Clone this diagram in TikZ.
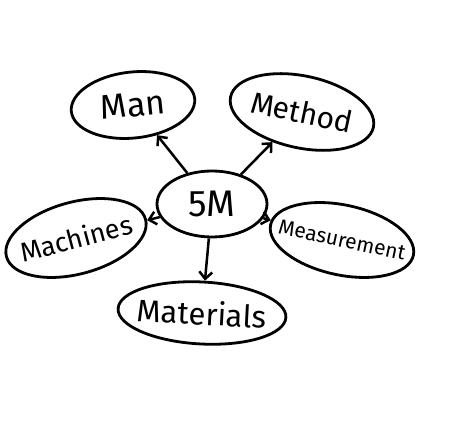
\documentclass[tikz,border=0pt]{standalone}
\usepackage{fontspec}
\setmainfont{Fira Sans}
\usepackage{tikz}
\usetikzlibrary{shapes.geometric,arrows.meta}

\tikzset{
    bubble/.style={draw,ellipse,line width=2.8pt,inner xsep=-20pt,inner ysep=-4pt},
    arr/.style={line width=2.5pt,-{Straight Barb[length=7pt,width=13pt]}}
}

\begin{document}
\begin{tikzpicture}[x=1pt,y=1pt]
    \fill[white] (0,0) rectangle (450,426);
    \useasboundingbox (0,0) rectangle (450,426);
    \node[bubble,minimum width=110,minimum height=66,font=\fontsize{37}{40}\selectfont] (c) at (212,222) {5M};
    \node[bubble,minimum width=124,minimum height=66,rotate=6,font=\fontsize{34}{38}\selectfont] (man) at (133,321) {Man};
    \node[bubble,minimum width=146,minimum height=72,rotate=-12,font=\fontsize{30}{34}\selectfont] (method) at (302,314) {Method};
    \node[bubble,minimum width=144,minimum height=72,rotate=15,font=\fontsize{27}{30}\selectfont] (mach) at (76,188) {Machines};
    \node[bubble,minimum width=146,minimum height=70,rotate=-12,font=\fontsize{21}{24}\selectfont] (meas) at (342,186) {Measurement};
    \node[bubble,minimum width=168,minimum height=62,rotate=-3,font=\fontsize{31}{34}\selectfont] (mat) at (202,113) {Materials};
    \draw[arr] (c) -- (man);
    \draw[arr] (c) -- (method);
    \draw[arr] (c) -- (mach);
    \draw[arr] (c) -- (meas);
    \draw[arr] (c) -- (mat);
\end{tikzpicture}
\end{document}
